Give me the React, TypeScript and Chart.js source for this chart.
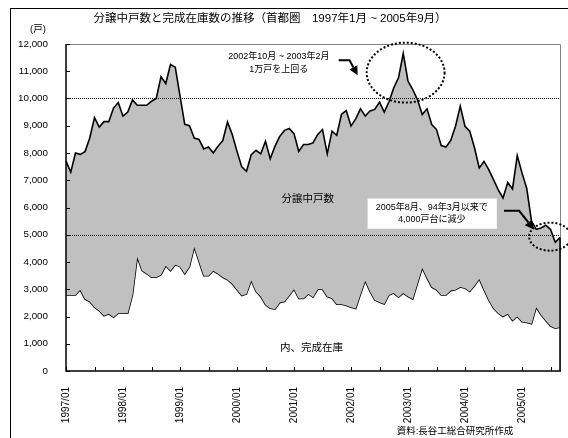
import React, { useEffect, useRef } from 'react';
import { Chart, registerables } from 'chart.js';

Chart.register(...registerables);

const FONT = '"Liberation Sans", "Noto Sans CJK JP", sans-serif';

// ---- data ----
const years = ['1997', '1998', '1999', '2000', '2001', '2002', '2003', '2004', '2005'];
const monthsInLastYear = 9;
const categories: string[] = [];
years.forEach((yr, k) => {
  const n = k === years.length - 1 ? monthsInLastYear : 12;
  for (let m = 1; m <= n; m++) categories.push(`${yr}/${String(m).padStart(2, '0')}`);
});

// 分譲中戸数 (units on sale)
const onSale = [
  7700, 7300, 8000, 7950, 8050, 8550, 9300, 8950, 9150, 9150, 9650, 9850,
  9350, 9500, 9950, 9750, 9750, 9750, 9900, 10000, 10800, 10550, 11250, 11150,
  10100, 9050, 9000, 8550, 8500, 8150, 8220, 8000, 8250, 8450, 9140, 8680,
  8060, 7490, 7330, 7940, 8100, 7970, 8430, 7790, 8250, 8610, 8830, 8900,
  8710, 8060, 8310, 8310, 8370, 8680, 8860, 7970, 8800, 8650, 9420, 9560,
  8990, 9250, 9620, 9360, 9540, 9600, 9870, 9500, 9880, 10390, 10760, 11650,
  10640, 10330, 9950, 9410, 9620, 9040, 8860, 8270, 8220, 8460, 8980, 9720,
  8980, 8800, 8190, 7450, 7690, 7390, 7020, 6650, 6350, 6920, 6680, 7900,
  7270, 6700, 5500, 5200, 5250, 5350, 5200, 4720, 4900,
];

// 内、完成在庫 (completed stock)
const completedStock = [
  2790, 2790, 2790, 2980, 2640, 2550, 2340, 2210, 2030, 2100, 1970, 2120,
  2120, 2120, 2790, 4180, 3690, 3570, 3440, 3440, 3530, 3860, 3680, 3900,
  3830, 3570, 3830, 4550, 4020, 3500, 3500, 3680, 3570, 3440, 3350, 3200,
  2980, 2770, 2830, 3320, 2920, 2730, 2430, 2300, 2270, 2510, 2550, 2770,
  3000, 2660, 2660, 2830, 2710, 3000, 3000, 2730, 2670, 2450, 2450, 2400,
  2340, 2290, 2820, 3310, 2920, 2610, 2520, 2460, 2790, 2860, 2710, 2860,
  2730, 2640, 3220, 3780, 3410, 3080, 2980, 2790, 2790, 2950, 2980, 3080,
  3040, 2920, 3130, 3380, 2980, 2610, 2300, 2120, 2000, 2100, 1850, 2000,
  1810, 1780, 1730, 2340, 2060, 1850, 1650, 1570, 1610,
];

const refLevels = [10000, 5000];
const yMax = 12000;
const yStep = 1000;

const titleText = '分譲中戸数と完成在庫数の推移（首都圏　1997年1月 ~ 2005年9月）';
const unitText = '(戸)';
const sourceText = '資料:長谷工総合研究所作成';
const onSaleLabel = '分譲中戸数';
const stockLabel = '内、完成在庫';
const note1 = ['2002年10月 ~ 2003年2月', '1万戸を上回る'];
const note2 = ['2005年8月、94年3月以来で', '4,000戸台に減少'];

function txt(ctx: CanvasRenderingContext2D, s: string, x: number, y: number, size: number, align: CanvasTextAlign = 'center') {
  ctx.font = `${size}px ${FONT}`;
  ctx.textAlign = align;
  ctx.textBaseline = 'middle';
  ctx.fillStyle = '#000';
  ctx.fillText(s, x, y);
}

function arrow(ctx: CanvasRenderingContext2D, pts: number[][]) {
  const n = pts.length;
  const [tx, ty] = pts[n - 1];
  const [px, py] = pts[n - 2];
  const ang = Math.atan2(ty - py, tx - px);
  const L = 9, W = 4.5;
  const bx = tx - L * Math.cos(ang), by = ty - L * Math.sin(ang);
  ctx.setLineDash([]);
  ctx.strokeStyle = '#000';
  ctx.fillStyle = '#000';
  ctx.lineWidth = 2;
  ctx.beginPath();
  ctx.moveTo(pts[0][0], pts[0][1]);
  for (let k = 1; k < n - 1; k++) ctx.lineTo(pts[k][0], pts[k][1]);
  ctx.lineTo(bx, by);
  ctx.stroke();
  ctx.beginPath();
  ctx.moveTo(tx, ty);
  ctx.lineTo(bx + W * Math.sin(ang), by - W * Math.cos(ang));
  ctx.lineTo(bx - W * Math.sin(ang), by + W * Math.cos(ang));
  ctx.closePath();
  ctx.fill();
}

const decor = {
  id: 'decor',
  beforeDraw(chart: any) {
    const { ctx, width, height } = chart;
    ctx.save();
    ctx.fillStyle = '#fff';
    ctx.fillRect(0, 0, width, height);
    ctx.restore();
  },
  beforeDatasetsDraw(chart: any) {
    // Filler draws before this hook's listeners? ensure ref lines after fill: handled in afterDatasetsDraw
  },
  afterDatasetsDraw(chart: any) {
    const { ctx, chartArea: a, scales } = chart;
    const xs = scales.x, ys = scales.y;
    ctx.save();
    // dotted reference lines
    ctx.strokeStyle = '#000';
    ctx.lineWidth = 1;
    ctx.setLineDash([1, 1]);
    ctx.beginPath();
    refLevels.forEach((lv) => {
      const p = Math.round(ys.getPixelForValue(lv)) + 0.5;
      ctx.moveTo(a.left, p);
      ctx.lineTo(a.right, p);
    });
    ctx.stroke();
    ctx.setLineDash([]);
    // plot top/right border
    ctx.strokeStyle = '#808080';
    ctx.lineWidth = 1;
    ctx.beginPath();
    ctx.moveTo(a.left, a.top + 0.5);
    ctx.lineTo(a.right + 0.5, a.top + 0.5);
    ctx.lineTo(a.right + 0.5, a.bottom);
    ctx.stroke();
    // right edge of the areas
    const last = onSale.length - 1;
    ctx.strokeStyle = '#000';
    ctx.lineWidth = 1.5;
    ctx.beginPath();
    ctx.moveTo(xs.getPixelForValue(last), ys.getPixelForValue(onSale[last]));
    ctx.lineTo(xs.getPixelForValue(last), ys.getPixelForValue(0));
    ctx.stroke();
    // axes
    ctx.lineWidth = 1.5;
    ctx.beginPath();
    ctx.moveTo(a.left, a.top);
    ctx.lineTo(a.left, a.bottom);
    ctx.lineTo(a.right + 1, a.bottom);
    ctx.stroke();
    // inward tick marks
    ctx.lineWidth = 1;
    ctx.beginPath();
    for (let v = 0; v <= yMax; v += yStep) {
      const p = Math.round(ys.getPixelForValue(v)) + 0.5;
      ctx.moveTo(a.left, p);
      ctx.lineTo(a.left + 4, p);
    }
    for (let i = 0; i < categories.length; i += 6) {
      const p = Math.round(xs.getPixelForValue(i)) + 0.5;
      ctx.moveTo(p, a.bottom);
      ctx.lineTo(p, a.bottom - 4);
    }
    ctx.stroke();
    ctx.restore();
  },
  afterDraw(chart: any) {
    const { ctx, scales } = chart;
    const xs = scales.x, ys = scales.y;
    const X = (i: number) => xs.getPixelForValue(i);
    const Y = (v: number) => ys.getPixelForValue(v);
    ctx.save();
    // outer frame
    ctx.strokeStyle = '#000';
    ctx.lineWidth = 1;
    ctx.strokeRect(10.5, 8.5, 800, 800);
    // title, unit, source
    txt(ctx, titleText, 270, 19, 11.5);
    txt(ctx, unitText, 38, 29, 9.5);
    txt(ctx, sourceText, 455, 431, 9.5);
    // area labels
    txt(ctx, onSaleLabel, X(50.9), Y(6290), 10.5);
    txt(ctx, stockLabel, X(51.7), Y(850), 10.5);
    // note 1
    txt(ctx, note1[0], X(44.8), Y(11550), 9);
    txt(ctx, note1[1], X(44.8), Y(11070), 9);
    arrow(ctx, [[X(57.4), Y(11400)], [X(59.7), Y(11400)], [X(61.4), Y(10850)]]);
    // note 2 box
    ctx.fillStyle = '#fff';
    ctx.fillRect(X(63.5), Y(6330), X(90.7) - X(63.5), Y(5220) - Y(6330));
    txt(ctx, note2[0], X(77.0), Y(5990), 9);
    txt(ctx, note2[1], X(77.0), Y(5550), 9);
    arrow(ctx, [[X(92.2), Y(5880)], [X(95.4), Y(5880)], [X(98.5), Y(5190)]]);
    // dotted ellipses
    ctx.strokeStyle = '#000';
    ctx.lineWidth = 2;
    ctx.setLineDash([2, 2]);
    const ell = (ci: number, cv: number, ri: number, rv: number) => {
      const cx = X(ci), cy = Y(cv);
      const rx = Math.abs(X(ci + ri) - cx), ry = Math.abs(Y(cv + rv) - cy);
      ctx.beginPath();
      ctx.ellipse(cx, cy, rx, ry, 0, 0, Math.PI * 2);
      ctx.stroke();
    };
    ell(71.5, 10950, 8.2, 1100);
    ell(101.9, 4930, 4.4, 515);
    ctx.restore();
  },
};

export default function App() {
  const ref = useRef<HTMLCanvasElement>(null);
  useEffect(() => {
    if (!ref.current) return;
    const chart = new Chart(ref.current, {
      type: 'line',
      data: {
        labels: categories,
        datasets: [
          {
            label: onSaleLabel,
            data: onSale,
            borderColor: '#000',
            borderWidth: 1.6,
            backgroundColor: '#C0C0C0',
            pointRadius: 0,
            tension: 0,
            fill: '+1',
          },
          {
            label: stockLabel,
            data: completedStock,
            borderColor: '#000',
            borderWidth: 1.6,
            backgroundColor: '#fff',
            pointRadius: 0,
            tension: 0,
            fill: false,
          },
        ] as any,
      },
      options: {
        animation: false,
        responsive: false,
        devicePixelRatio: 1,
        layout: { padding: { left: 0, top: 44, right: 8, bottom: 0 } },
        plugins: { legend: { display: false }, tooltip: { enabled: false }, title: { display: false } },
        scales: {
          x: {
            type: 'category',
            offset: false,
            grid: { display: false },
            border: { display: false },
            ticks: {
              autoSkip: false,
              maxRotation: 90,
              minRotation: 90,
              padding: 8,
              color: '#000',
              font: { family: FONT, size: 10 },
              callback: (_v: any, idx: number) => (idx % 12 === 0 ? categories[idx] : null),
            },
            afterFit: (s: any) => {
              s.height = 67;
              s.paddingLeft = 0;
              s.paddingRight = 0;
            },
          },
          y: {
            min: 0,
            max: yMax,
            grid: { display: false },
            border: { display: false },
            ticks: {
              stepSize: yStep,
              padding: 10,
              color: '#000',
              font: { family: FONT, size: 9.8 },
              callback: (v: any) => Number(v).toLocaleString('en-US'),
            },
            afterFit: (s: any) => {
              s.width = 66;
            },
          },
        },
      } as any,
      plugins: [decor],
    });
    return () => chart.destroy();
  }, []);
  return (
    <div style={{ position: 'absolute', left: 0, top: 0, width: 568, height: 438 }}>
      <canvas ref={ref} width={568} height={438} />
    </div>
  );
}
